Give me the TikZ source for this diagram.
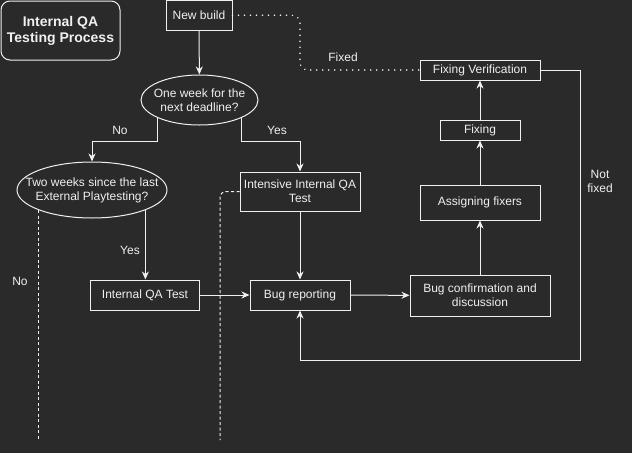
\documentclass[tikz,border=0pt]{standalone}
\usepackage{fontspec}
\setmainfont{Liberation Sans}
\usetikzlibrary{shapes.geometric,arrows.meta}
\definecolor{bgcol}{HTML}{2A2A2A}
\definecolor{fgcol}{HTML}{F0F0F0}
\tikzset{
  procbox/.style={draw=fgcol, fill=bgcol, text=fgcol, line width=1pt, inner sep=0pt, align=center, font=\fontsize{12}{14}\selectfont},
  decbox/.style={draw=fgcol, fill=bgcol, line width=1pt, ellipse, inner sep=0pt},
  lbltext/.style={text=fgcol, align=center, inner sep=0pt, font=\fontsize{12}{14}\selectfont},
  flowarrow/.style={draw=fgcol, line width=1pt, -{Stealth[length=8pt, width=7pt, inset=2.5pt]}},
  dotline/.style={draw=fgcol, line width=1.6pt, line cap=round, dash pattern=on 0pt off 6pt, rounded corners=8pt},
  dashline/.style={draw=fgcol, line width=1pt, dash pattern=on 3pt off 2.5pt, rounded corners=6pt}
}
\begin{document}
\begin{tikzpicture}[x=1pt, y=-1pt]
  \useasboundingbox (0,0) rectangle (632,453);
  \fill[bgcol] (0,0) rectangle (632,453);
  % title
  \node[procbox, rounded corners=9pt, minimum width=119pt, minimum height=59pt, font=\bfseries\fontsize{14}{16}\selectfont] (title) at (60.5,30.5) {Internal QA\\Testing Process};
  % left column
  \node[procbox, minimum width=66pt, minimum height=29.5pt] (newbuild) at (199,15.25) {New build};
  \node[decbox, minimum width=117pt, minimum height=50pt, label={[lbltext]center:One week for the\\next deadline?}] (week) at (199.5,100) {};
  \node[decbox, minimum width=150pt, minimum height=56pt, label={[lbltext]center:Two weeks since the last\\External Playtesting?}] (twoweeks) at (92,190) {};
  \node[procbox, minimum width=120pt, minimum height=39pt] (intensive) at (300,191.5) {Intensive Internal QA\\Test};
  \node[procbox, minimum width=109pt, minimum height=30pt] (iqa) at (145,295) {Internal QA Test};
  \node[procbox, minimum width=100pt, minimum height=30pt] (bugrep) at (300,295) {Bug reporting};
  % right column
  \node[procbox, minimum width=140pt, minimum height=41pt] (bugconf) at (480,295.5) {Bug confirmation and\\discussion};
  \node[procbox, minimum width=120pt, minimum height=35pt] (assign) at (480,202.5) {Assigning fixers};
  \node[procbox, minimum width=80pt, minimum height=20pt] (fixing) at (480,130) {Fixing};
  \node[procbox, minimum width=120pt, minimum height=20pt] (verif) at (480,70) {Fixing Verification};
  % free ends and bends
  \coordinate (noend) at (38.5,440);
  \coordinate (yesend) at (220,440);
  \coordinate (fixcorner) at (300,70);
  \coordinate (loopcorner) at (580.5,360);
  % connectors
  \draw[flowarrow] (newbuild) -- (week);
  \draw[flowarrow] (week.south west) -- ++(0,23) -| (twoweeks.north);
  \draw[flowarrow] (week.south east) -- ++(0,23) -| (intensive.north);
  \draw[flowarrow] (twoweeks.south east) -- (twoweeks.south east |- iqa.north);
  \draw[dashline] (twoweeks.south west) -- (twoweeks.south west |- noend);
  \draw[dashline] (intensive.west) -- (yesend |- intensive.west) -- (yesend);
  \draw[flowarrow] (iqa) -- (bugrep);
  \draw[flowarrow] (intensive) -- (bugrep);
  \draw[flowarrow] (bugrep) -- (bugconf);
  \draw[flowarrow] (bugconf) -- (assign);
  \draw[flowarrow] (assign) -- (fixing);
  \draw[flowarrow] (fixing) -- (verif);
  \draw[flowarrow] (verif.east) -| (loopcorner) -| (bugrep.south);
  \draw[dotline] (newbuild.east) -| (fixcorner) -- (verif.west);
  % labels
  \node[lbltext] (lblno) at (120,130.5) {No};
  \node[lbltext] (lblyes) at (277,130.5) {Yes};
  \node[lbltext] (lblyes2) at (130,250.5) {Yes};
  \node[lbltext] (lblno2) at (20,281) {No};
  \node[lbltext] (lblfixed) at (343,57) {Fixed};
  \node[lbltext] (lblnotfixed) at (600,181.5) {Not\\fixed};
\end{tikzpicture}
\end{document}
